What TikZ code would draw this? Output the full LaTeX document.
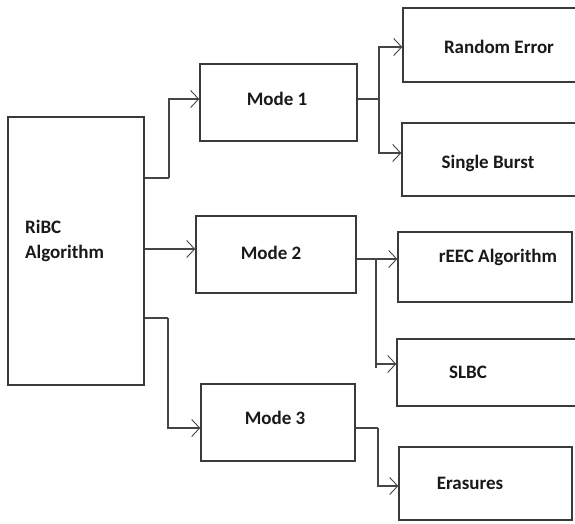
\documentclass[tikz,border=0pt]{standalone}
\usepackage{fontspec}
\setmainfont{Carlito}
\usetikzlibrary{arrows.meta}
\definecolor{edge}{HTML}{3A3A3A}
\definecolor{wire}{HTML}{454545}
\tikzset{
  box/.style={draw=edge, line width=1.4pt, fill=white, inner sep=0pt},
  lbl/.style={font=\fontsize{19}{25}\selectfont\bfseries, text=black!90, inner sep=0pt},
  conn/.style={draw=wire, line width=1.1pt,
    -{Straight Barb[length=8pt,width=17pt,line width=0.9pt]}},
  wireonly/.style={draw=wire, line width=1.1pt}
}
\begin{document}
\begin{tikzpicture}[x=1pt,y=-1pt]
\useasboundingbox (0,0) rectangle (575,523);
\clip (0,0) rectangle (575,523);
\fill[white] (0,0) rectangle (575,523);

% boxes
\node[box, minimum width=136pt, minimum height=268pt] (ribc) at (76,251) {};
\node[box, minimum width=157pt, minimum height=77pt] (m1) at (278.5,102.5) {};
\node[box, minimum width=160pt, minimum height=77pt] (m2) at (276,254.5) {};
\node[box, minimum width=154pt, minimum height=77pt] (m3) at (278,422.5) {};
\node[box, minimum width=190pt, minimum height=74pt] (re) at (498,45) {};
\node[box, minimum width=190pt, minimum height=73pt] (sb) at (497,159.5) {};
\node[box, minimum width=174pt, minimum height=70pt] (reec) at (485,267) {};
\node[box, minimum width=195pt, minimum height=67pt] (slbc) at (494.5,372.5) {};
\node[box, minimum width=173pt, minimum height=73pt] (er) at (485.5,483.5) {};

% labels
\node[lbl, anchor=west, align=left] (tribc) at (25,240.5) {RiBC\\Algorithm};
\node[lbl] (tm1) at (277,99) {Mode 1};
\node[lbl] (tm2) at (271,253) {Mode 2};
\node[lbl] (tm3) at (275,418) {Mode 3};
\node[lbl] (tre) at (499,47) {Random Error};
\node[lbl] (tsb) at (488,163) {Single Burst};
\node[lbl] (treec) at (498,257) {rEEC Algorithm};
\node[lbl] (tslbc) at (468,372) {SLBC};
\node[lbl] (ter) at (470,483) {Erasures};

% junction points of the branching wires
\coordinate (j1) at (169,178);
\coordinate (j3) at (168,318);
\coordinate (k1) at (379,99);
\coordinate (k2) at (376,259);
\coordinate (k3) at (378,428);

% RiBC to the three modes
\draw[wireonly] (ribc.east |- j1) -- (j1);
\draw[conn] (j1) |- ([yshift=3.5pt]m1.west);
\draw[conn] ([yshift=2pt]ribc.east) -- ([yshift=2pt]ribc.east -| m2.west);
\draw[wireonly] (ribc.east |- j3) -- (j3);
\draw[conn] (j3) |- ([yshift=-5.5pt]m3.west);

% Mode 1 branches
\draw[wireonly] (m1.east |- k1) -- (k1);
\draw[conn] (k1) |- (re.west |- 0,47);
\draw[conn] (k1) |- (sb.west |- 0,153);

% Mode 2 branches
\draw[conn] (m2.east |- k2) -- (reec.west |- k2);
\draw[wireonly] (k2) -- (376,368);
\draw[conn] (k2) |- (slbc.west |- 0,364);

% Mode 3 branch
\draw[wireonly] (m3.east |- k3) -- (k3);
\draw[conn] (k3) |- (er.west |- 0,486);
\end{tikzpicture}
\end{document}
